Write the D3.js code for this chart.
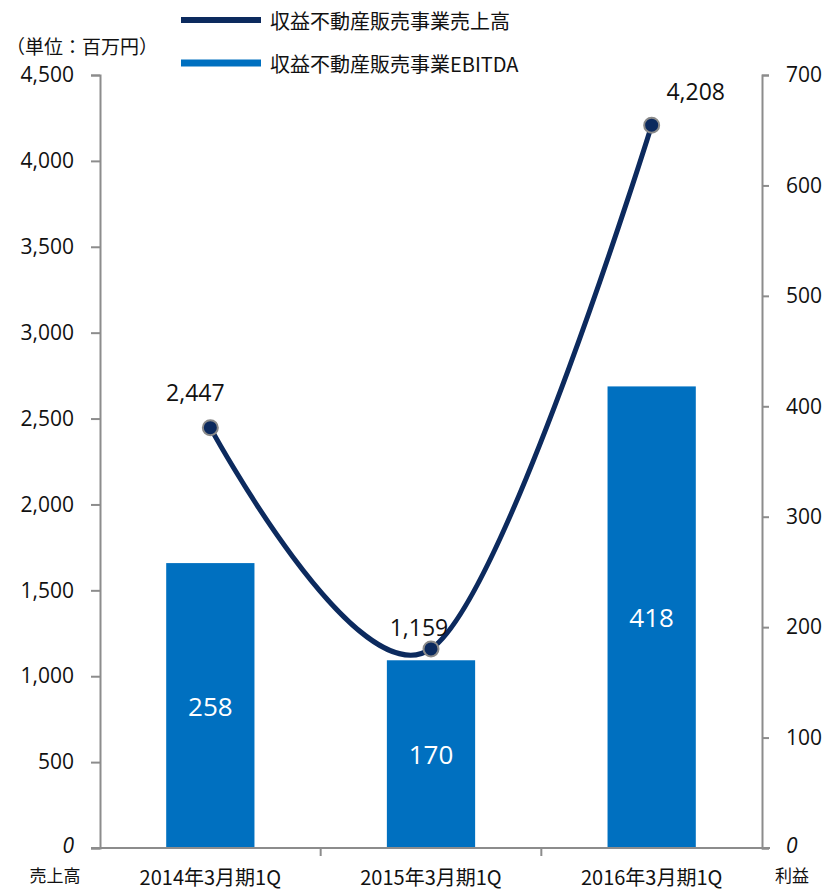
<!DOCTYPE html>
<html>
<head>
<meta charset="utf-8">
<script src="https://cdn.jsdelivr.net/npm/d3@7"></script>
<style>
  body { margin: 0; background: #fff; }
  text { font-family: "Noto Sans CJK JP", "Noto Sans", sans-serif; fill: #111; }
</style>
</head>
<body>
<div class="chart"></div>
<script>
//-----------------------------------------
// data
//-----------------------------------------
var categories = ["2014年3月期1Q", "2015年3月期1Q", "2016年3月期1Q"];
var salesValues = [2447, 1159, 4208];      // 売上高 (left axis)
var ebitdaValues = [258, 170, 418];        // EBITDA (right axis)
var leftTicks = [0, 500, 1000, 1500, 2000, 2500, 3000, 3500, 4000, 4500];
var rightTicks = [0, 100, 200, 300, 400, 500, 600, 700];
var seriesNames = ["収益不動産販売事業売上高", "収益不動産販売事業EBITDA"];

//-----------------------------------------
// chart
//-----------------------------------------
var svgWidth = 827;
var svgHeight = 891;

var chartMargin = { top: 75, bottom: 43, left: 100, right: 65 };
var chartWidth = svgWidth - chartMargin.left - chartMargin.right;
var chartHeight = svgHeight - chartMargin.top - chartMargin.bottom;

var barColor = "#0070c0";
var lineColor = "#0c2a5e";
var axisColor = "#8c8c8c";

var svg = d3.select(".chart")
    .append("svg")
    .attr("width", svgWidth)
    .attr("height", svgHeight);

var chartGroup = svg.append("g")
    .attr("transform", `translate(${chartMargin.left}, ${chartMargin.top})`);

// scales
var xScale = d3.scaleBand()
    .domain(categories)
    .range([0, chartWidth])
    .paddingInner(0.6)
    .paddingOuter(0.3);

var xCenter = d => xScale(d) + xScale.bandwidth() / 2;

var yLeft = d3.scaleLinear().domain([0, 4500]).range([chartHeight, 0]);
var yRight = d3.scaleLinear().domain([0, 700]).range([chartHeight, 0]);

// bars
chartGroup.selectAll(".bar")
    .data(categories)
    .enter()
    .append("rect")
    .attr("class", "bar")
    .attr("x", d => xScale(d))
    .attr("width", xScale.bandwidth())
    .attr("y", (d, i) => yRight(ebitdaValues[i]))
    .attr("height", (d, i) => chartHeight - yRight(ebitdaValues[i]))
    .attr("fill", barColor);

// bar labels
chartGroup.selectAll(".barLabel")
    .data(categories)
    .enter()
    .append("text")
    .attr("x", d => xCenter(d))
    .attr("y", (d, i) => (yRight(ebitdaValues[i]) + chartHeight) / 2)
    .attr("text-anchor", "middle")
    .attr("dominant-baseline", "central")
    .style("font-family", "'Open Sans', sans-serif")
    .style("font-size", "26px")
    .style("fill", "#fff")
    .text((d, i) => ebitdaValues[i]);

// axes
var leftAxis = d3.axisLeft(yLeft).tickValues(leftTicks).tickSize(9).tickFormat(d3.format(","));
var rightAxis = d3.axisRight(yRight).tickValues(rightTicks).tickSize(7).tickFormat(d3.format(","));
var bottomAxis = d3.axisBottom(xScale).tickSize(0).tickFormat("");

var gLeft = chartGroup.append("g").call(leftAxis);
var gRight = chartGroup.append("g").attr("transform", `translate(${chartWidth}, 0)`).call(rightAxis);

[gLeft, gRight].forEach(function (g) {
    g.select(".domain").attr("stroke", axisColor).attr("stroke-width", 2);
    g.selectAll(".tick line").attr("stroke", axisColor).attr("stroke-width", 2);
    g.selectAll(".tick text")
        .style("font-family", "'Open Sans', sans-serif")
        .style("font-size", "21px")
        .style("fill", "#111");
});
gLeft.selectAll(".tick text").attr("x", -26);
gRight.selectAll(".tick text").attr("x", 24);
gLeft.selectAll(".tick").filter(d => d === 0).select("text").style("font-style", "italic").attr("dy", "0.2em");
gRight.selectAll(".tick").filter(d => d === 0).select("text").style("font-style", "italic").attr("dy", "0.2em");

// x axis baseline with category separators
chartGroup.append("line")
    .attr("x1", -9).attr("x2", chartWidth + 8)
    .attr("y1", chartHeight).attr("y2", chartHeight)
    .attr("stroke", axisColor).attr("stroke-width", 2);

var gBottom = chartGroup.append("g").attr("transform", `translate(0, ${chartHeight})`).call(bottomAxis);
gBottom.select(".domain").remove();

var step = xScale.step();
var separators = categories.slice(1).map(d => xScale(d) - step * xScale.paddingInner() / 2);
chartGroup.selectAll(".sep")
    .data(separators)
    .enter()
    .append("line")
    .attr("x1", d => d).attr("x2", d => d)
    .attr("y1", chartHeight).attr("y2", chartHeight + 8)
    .attr("stroke", axisColor).attr("stroke-width", 2);

chartGroup.selectAll(".catLabel")
    .data(categories)
    .enter()
    .append("text")
    .attr("x", d => xCenter(d))
    .attr("y", chartHeight + 28)
    .attr("text-anchor", "middle")
    .attr("dominant-baseline", "central")
    .style("font-size", "20px")
    .text(d => d);

// axis names
svg.append("text").attr("x", 55).attr("y", 874).attr("text-anchor", "middle")
    .attr("dominant-baseline", "central")
    .style("font-size", "17px").text("売上高");
svg.append("text").attr("x", 792).attr("y", 874).attr("text-anchor", "middle")
    .attr("dominant-baseline", "central")
    .style("font-size", "17px").text("利益");
svg.append("text").attr("x", 6).attr("y", 45)
    .attr("dominant-baseline", "central")
    .style("font-size", "19px").text("（単位：百万円）");

// line
var line = d3.line()
    .x((d, i) => xCenter(categories[i]))
    .y(d => yLeft(d))
    .curve(d3.curveCatmullRom.alpha(0));

chartGroup.append("path")
    .datum(salesValues)
    .attr("d", line)
    .attr("fill", "none")
    .attr("stroke", lineColor)
    .attr("stroke-width", 5);

chartGroup.selectAll(".marker")
    .data(salesValues)
    .enter()
    .append("circle")
    .attr("cx", (d, i) => xCenter(categories[i]))
    .attr("cy", d => yLeft(d))
    .attr("r", 7.5)
    .attr("fill", lineColor)
    .attr("stroke", "#8a8a8a")
    .attr("stroke-width", 2);

// line labels
var labelOffsets = [[-15, -36], [-12, -22], [44, -34]];
chartGroup.selectAll(".lineLabel")
    .data(salesValues)
    .enter()
    .append("text")
    .attr("x", (d, i) => xCenter(categories[i]) + labelOffsets[i][0])
    .attr("y", (d, i) => yLeft(d) + labelOffsets[i][1])
    .attr("text-anchor", "middle")
    .attr("dominant-baseline", "central")
    .style("font-family", "'Open Sans', sans-serif")
    .style("font-size", "23px")
    .text(d => d3.format(",")(d));

// legend
var legend = svg.append("g");
seriesNames.forEach(function (name, i) {
    var y = 20 + i * 43;
    legend.append("line")
        .attr("x1", 181).attr("x2", 261)
        .attr("y1", y).attr("y2", y)
        .attr("stroke", i === 0 ? lineColor : barColor)
        .attr("stroke-width", i === 0 ? 6 : 7);
    legend.append("text")
        .attr("x", 270).attr("y", y)
        .attr("dominant-baseline", "central")
        .style("font-size", "20px")
        .text(name);
});
</script>
</body>
</html>
